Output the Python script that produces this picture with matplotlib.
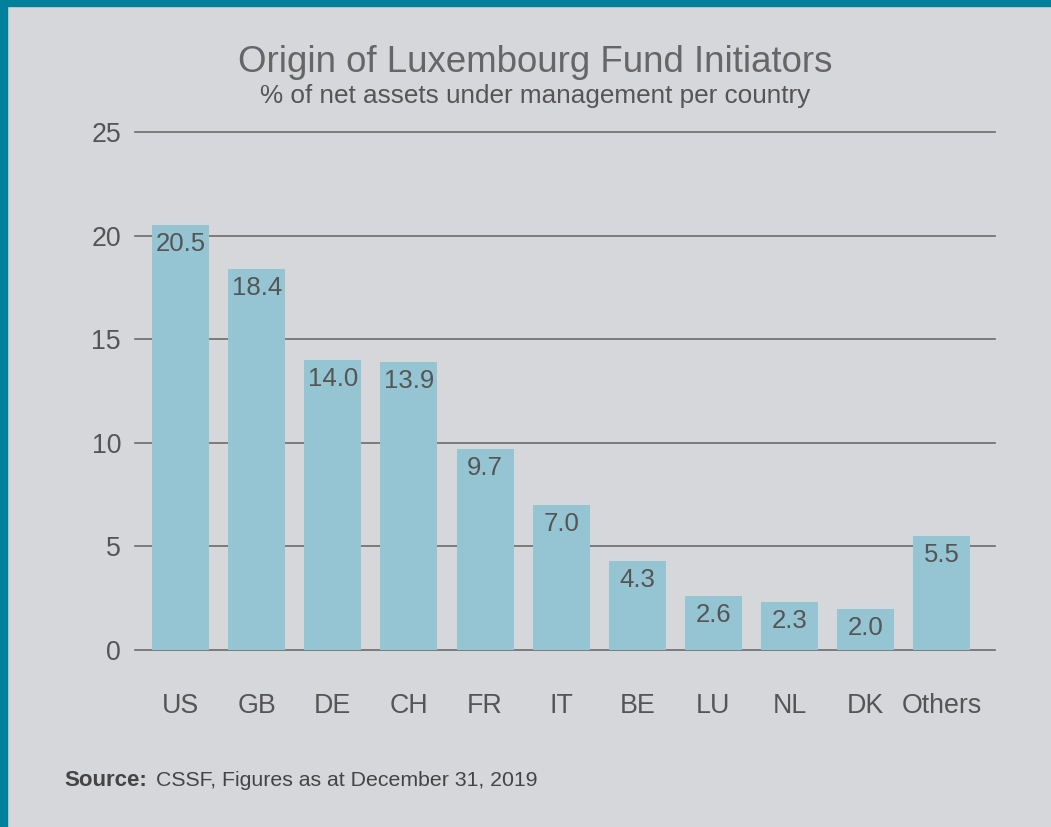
import matplotlib.pyplot as plt
from matplotlib.patches import Rectangle

plt.rcParams['font.family'] = ['Liberation Sans', 'DejaVu Sans']

countries = ["US", "GB", "DE", "CH", "FR", "IT", "BE", "LU", "NL", "DK", "Others"]
shares = [20.5, 18.4, 14.0, 13.9, 9.7, 7.0, 4.3, 2.6, 2.3, 2.0, 5.5]
yticks = [0, 5, 10, 15, 20, 25]

bg = "#d6d7db"
bar_col = "#95c4d3"
txt = "#555555"

fig = plt.figure(figsize=(10.51, 8.27), dpi=100, facecolor=bg)
ax = fig.add_axes([0.1284, 0.214, 0.8183, 0.6264])
ax.set_facecolor(bg)

x = list(range(len(countries)))
bars = ax.bar(x, shares, width=0.75, color=bar_col, zorder=3)

for xi, v in zip(x, shares):
    ax.annotate(f"{v:.1f}", (xi, v), xytext=(0, -5), textcoords="offset points",
                ha="center", va="top", fontsize=18.5, color=txt, zorder=4)

ax.set_xlim(-0.6, 10.7)
ax.set_ylim(0, 25)
ax.set_yticks(yticks)
ax.set_xticks(x)
ax.set_xticklabels(countries)
ax.yaxis.grid(True, color="#6c6c6c", linewidth=1.2, zorder=1)
ax.set_axisbelow(True)
for s in ax.spines.values():
    s.set_visible(False)
ax.tick_params(axis="both", length=0, labelsize=19.3, labelcolor=txt)
ax.tick_params(axis="y", pad=10)
ax.tick_params(axis="x", pad=31)
for gl in ax.get_ygridlines():
    gl.set_clip_on(False)

fig.text(0.509, 0.925, "Origin of Luxembourg Fund Initiators", ha="center", va="center",
         fontsize=26.4, color="#666666")
fig.text(0.509, 0.884, "% of net assets under management per country", ha="center",
         va="center", fontsize=18.8, color="#555555")

fig.text(0.061, 0.056, "Source:", ha="left", va="center", fontsize=16,
         fontweight="bold", color="#444444")
fig.text(0.148, 0.056, "CSSF, Figures as at December 31, 2019", ha="left", va="center",
         fontsize=15.3, color="#444444")

# teal frame on top and left
fig.patches.append(Rectangle((0, 0), 7 / 1051, 1, transform=fig.transFigure,
                             color="#00809a", zorder=10))
fig.patches.append(Rectangle((0, 1 - 6 / 827), 1, 6 / 827, transform=fig.transFigure,
                             color="#00809a", zorder=10))

fig.savefig("out.png", dpi=100, facecolor=bg)
